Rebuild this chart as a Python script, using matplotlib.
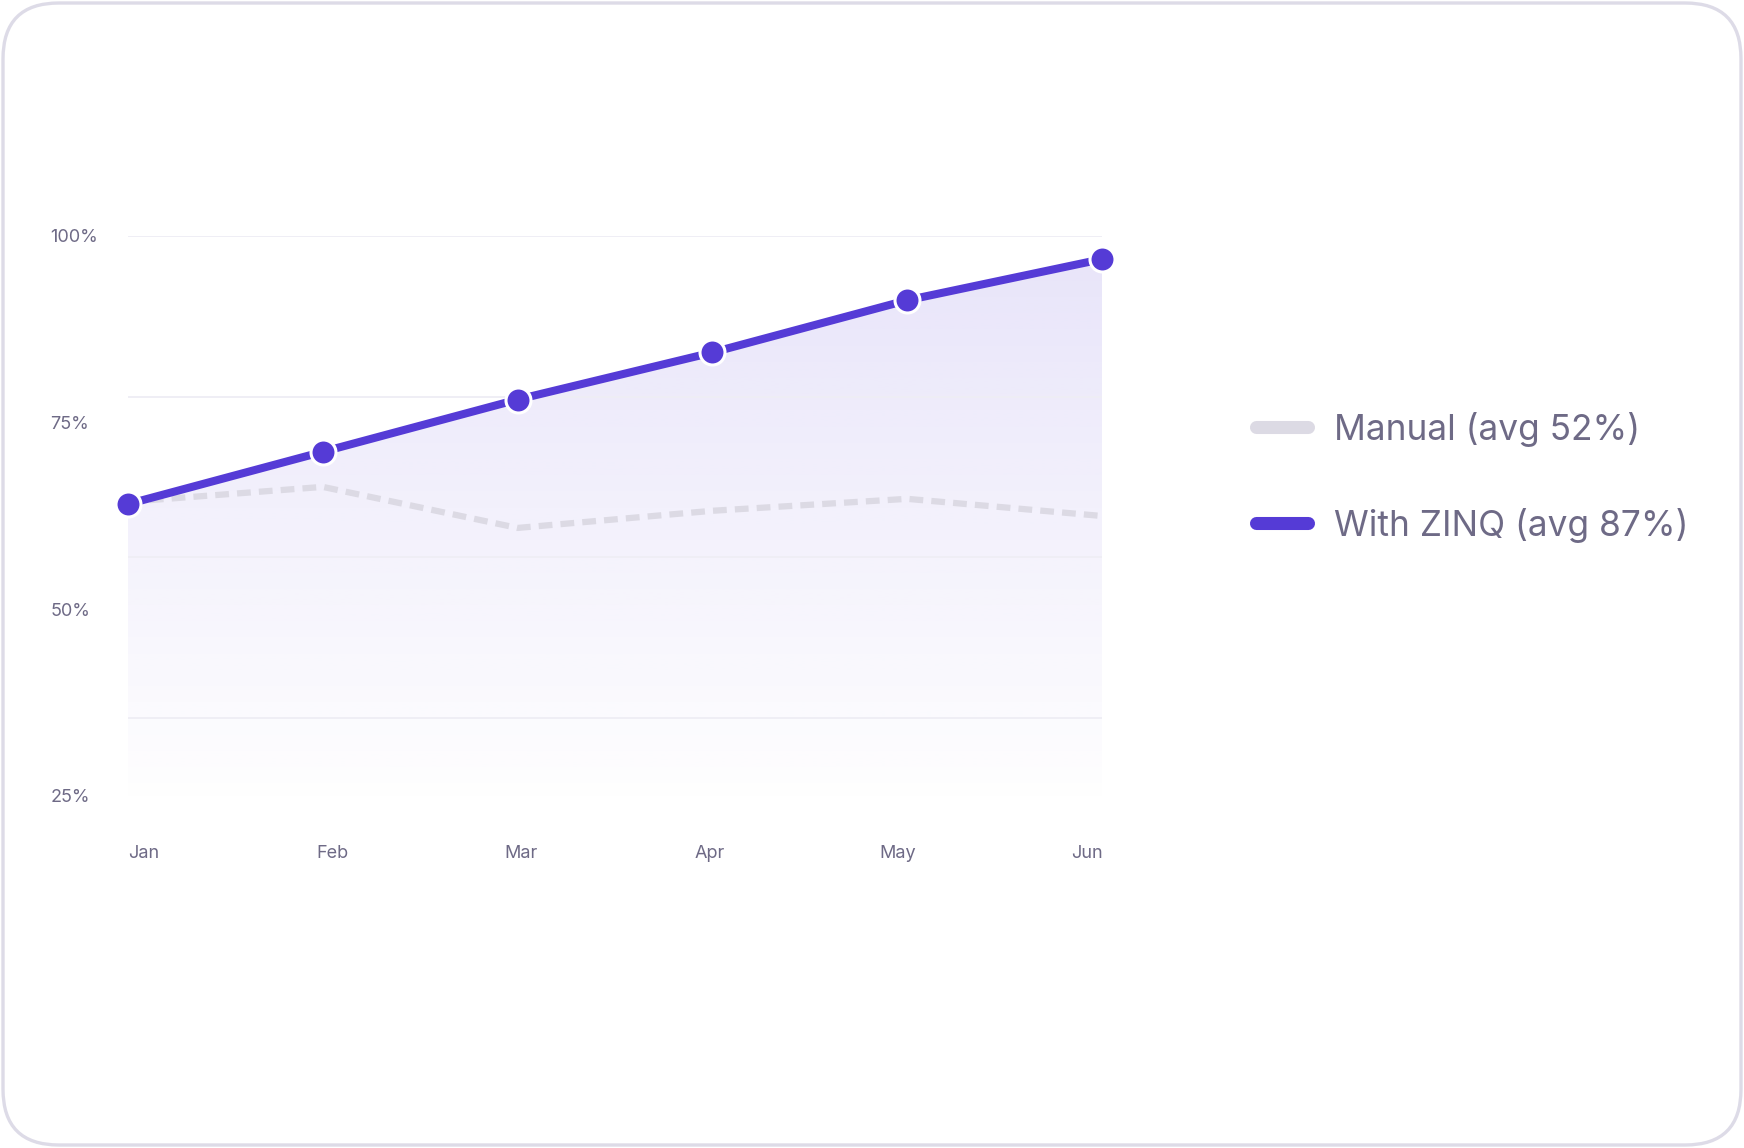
import numpy as np
import matplotlib
matplotlib.use("Agg")
import matplotlib.pyplot as plt
from matplotlib.patches import FancyBboxPatch, Polygon
from matplotlib.lines import Line2D

plt.rcParams['font.family'] = ['Inter', 'DejaVu Sans']

# data
months = ['Jan', 'Feb', 'Mar', 'Apr', 'May', 'Jun']
with_zinq = [64.1, 71.1, 78.1, 84.4, 91.4, 96.9]
manual = [64.4, 66.4, 60.9, 63.2, 64.8, 62.5]
y_ticks = [25, 50, 75, 100]
y_tick_labels = ['25%', '50%', '75%', '100%']
grid_levels = [100, 78.5, 57.0, 35.5]
legend_labels = ['Manual (avg 52%)', 'With ZINQ (avg 87%)']

PURPLE = '#553bd6'
MANUAL_C = '#dcdae4'
TEXT_C = '#6e6a86'
GRID_C = '#efeef5'

W, H = 1744, 1148
fig = plt.figure(figsize=(W / 100, H / 100), dpi=100)
fig.patch.set_facecolor('white')

# rounded card border
card = FancyBboxPatch((3 / W, 3 / H), (W - 6) / W, (H - 6) / H,
                      boxstyle="round,pad=0,rounding_size=0.032",
                      transform=fig.transFigure, facecolor='none',
                      edgecolor='#dddbe7', linewidth=2.4, mutation_aspect=W / H,
                      zorder=-1)
fig.patches.append(card)

ax_l, ax_r, ax_t, ax_b = 128, 1102, 236, 796
ax = fig.add_axes([ax_l / W, 1 - ax_b / H, (ax_r - ax_l) / W, (ax_b - ax_t) / H])
ax.set_facecolor('none')
x = np.arange(len(months))
ax.set_xlim(0, len(months) - 1)
ax.set_ylim(25, 100)

for s in ax.spines.values():
    s.set_visible(False)

# gradient fill under the ZINQ line
grad = np.linspace(0, 1, 256)[:, None]
rgba = np.zeros((256, 1, 4))
rgba[..., 0] = 0x55 / 255
rgba[..., 1] = 0x3b / 255
rgba[..., 2] = 0xd6 / 255
rgba[..., 3] = 0.005 + 0.135 * grad
img = ax.imshow(rgba, extent=[0, len(months) - 1, 25, 100], origin='lower',
                aspect='auto', zorder=1, interpolation='bilinear')
poly = Polygon(np.column_stack([np.r_[x, x[-1], x[0]],
                                np.r_[with_zinq, 25, 25]]),
               closed=True, facecolor='none', edgecolor='none',
               transform=ax.transData)
ax.add_patch(poly)
img.set_clip_path(poly)

for g in grid_levels:
    ax.axhline(g, color=GRID_C, linewidth=1.4, zorder=2)

ax.plot(x, manual, color=MANUAL_C, linewidth=4.5, dashes=(2.2, 1.3),
        zorder=3, clip_on=False)
ax.plot(x, with_zinq, color=PURPLE, linewidth=5.8, zorder=4, clip_on=False,
        marker='o', markersize=18, markerfacecolor=PURPLE,
        markeredgecolor='white', markeredgewidth=2.2,
        solid_capstyle='round')

ax.set_yticks(y_ticks)
ax.set_yticklabels(y_tick_labels, ha='left')
ax.tick_params(axis='y', length=0, pad=56, labelsize=13, labelcolor=TEXT_C)
ax.set_xticks([])

# month labels spread like space-between
edge = 15.5 / (ax_r - ax_l)
for frac, m in zip(np.linspace(edge, 1 - edge, len(months)), months):
    ax.text(frac, -58 / (ax_b - ax_t), m, transform=ax.transAxes,
            ha='center', va='center', fontsize=13, color=TEXT_C)

# legend
for yb, lab, col in [(440, legend_labels[0], MANUAL_C),
                     (536, legend_labels[1], PURPLE)]:
    yc = 1 - (yb - 13) / H
    fig.add_artist(Line2D([1256 / W, 1308 / W], [yc, yc], color=col,
                          linewidth=9.4, solid_capstyle='round',
                          transform=fig.transFigure))
    fig.text(1334 / W, 1 - yb / H, lab, ha='left', va='baseline',
             fontsize=25.4, color=TEXT_C)

fig.savefig('out.png', dpi=100, facecolor='white')
